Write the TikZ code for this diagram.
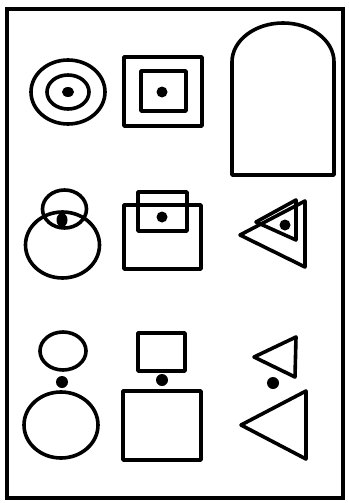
\documentclass[tikz,border=0pt]{standalone}
\usetikzlibrary{calc}
\begin{document}
\begin{tikzpicture}[x=1pt,y=-1pt]
\tikzset{fig/.style={draw,line width=3.6pt,line join=round},
  blob/.style={fill=black}}
\useasboundingbox (0,0) rectangle (348,503);
\draw[line width=3.5pt] (7,9) rectangle (343,498);
% row 1
\draw[fig] (68,92) ellipse [x radius=37,y radius=32];
\draw[fig] (68,92) ellipse [x radius=21,y radius=17];
\fill[blob] (68,92) ellipse [x radius=6,y radius=5];
\draw[fig] (124,57) rectangle (202,126);
\draw[fig] (141,71) rectangle (186,111);
\fill[blob] (162,92) circle (5.5);
\draw[fig] (232,175) -- (232,62) arc[start angle=180,end angle=360,x radius=51,y radius=39] -- (334,175) -- cycle;
% row 2
\draw[fig] (64.5,209) ellipse [x radius=22,y radius=19];
\draw[fig] (62.5,245) ellipse [x radius=37,y radius=33];
\fill[blob] (62,220) ellipse [x radius=5.5,y radius=7];
\draw[fig] (124,205) rectangle (201,269);
\draw[fig] (138,192) rectangle (187,231);
\fill[blob] (162,217) circle (5.5);
\draw[fig] (240,235) -- (305,201) -- (305,267) -- cycle;
\draw[fig] (256,222) -- (296,200) -- (296,240) -- cycle;
\fill[blob] (285,225) circle (5.5);
% row 3
\draw[fig] (63,351) ellipse [x radius=23,y radius=19];
\fill[blob] (62,382) circle (6);
\draw[fig] (61,425) ellipse [x radius=37,y radius=33];
\draw[fig] (138,333) rectangle (185,371);
\fill[blob] (162,380) circle (6);
\draw[fig] (123,391) rectangle (201,460);
\draw[fig] (254,357) -- (296,337) -- (295,377) -- cycle;
\fill[blob] (273,383) circle (6);
\draw[fig] (241,425) -- (306,391) -- (306,459) -- cycle;
\end{tikzpicture}
\end{document}
